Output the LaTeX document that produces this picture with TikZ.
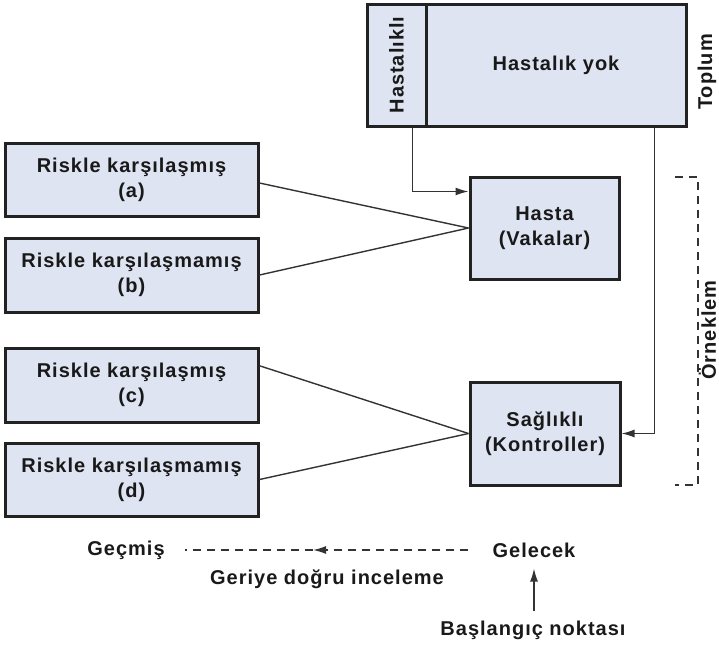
\documentclass[tikz,border=0pt]{standalone}
\usepackage{fontspec}
\setmainfont{Liberation Sans}[LetterSpace=5]
\usetikzlibrary{arrows.meta,calc}
\definecolor{boxfill}{HTML}{DEE4F2}
\definecolor{boxline}{HTML}{222222}
\definecolor{wirecol}{HTML}{333333}

\begin{document}
\begin{tikzpicture}[x=1pt, y=-1pt,
  >={Latex[length=13pt,width=8pt]},
  every node/.style={font=\bfseries\fontsize{20}{25}\selectfont, text=black!90},
  box/.style={draw=boxline, line width=3pt, fill=boxfill, align=center, inner sep=0pt},
  wire/.style={draw=wirecol, line width=1.4pt},
  dashes/.style={dash pattern=on 8pt off 6pt},
  tag/.style={inner sep=2pt}]
  \useasboundingbox (0,0) rectangle (719,646);
  % Toplum
  \node[box, minimum width=59, minimum height=122] (hastalikli) at (396.5,65) {\rotatebox{90}{Hastalıklı}};
  \node[box, minimum width=260, minimum height=122] (yok) at (556,65) {Hastalık yok};
  \node[tag, rotate=90] (toplum) at (707,72) {Toplum};
  % risk groups
  \node[box, minimum width=253, minimum height=73] (a) at (131.5,179.5) {Riskle karşılaşmış\\(a)};
  \node[box, minimum width=253, minimum height=74] (b) at (131.5,275) {Riskle karşılaşmamış\\(b)};
  \node[box, minimum width=253, minimum height=74] (c) at (131.5,385) {Riskle karşılaşmış\\(c)};
  \node[box, minimum width=253, minimum height=73] (d) at (131.5,479.5) {Riskle karşılaşmamış\\(d)};
  % cases and controls
  \node[box, minimum width=149, minimum height=102] (hasta) at (544.5,228) {Hasta\\(Vakalar)};
  \node[box, minimum width=150, minimum height=103] (saglikli) at (545,433.5) {Sağlıklı\\(Kontroller)};
  \draw[wire] ([yshift=-3.5pt]a.east) -- (hasta.west);
  \draw[wire] (b.east) -- (hasta.west);
  \draw[wire] ($(c.north east)!.25!(c.south east)$) -- (saglikli.west);
  \draw[wire] (d.east) -- (saglikli.west);
  \draw[wire,->] ([xshift=-15pt]hastalikli.south east) |- ([yshift=-16pt]hasta.north west);
  \draw[wire,->] ([xshift=-33pt]yok.south east) |- (saglikli.east);
  % Orneklem bracket
  \coordinate (brtop) at (675,177);
  \draw[wire, line width=1.2pt, dashes] (brtop) -- ++(23,0) -- ++(0,308) -- ++(-23,0);
  \node[tag, rotate=90] (orneklem) at (707.5,330) {Örneklem};
  % time axis
  \node[tag] (gecmis) at (126,550) {Geçmiş};
  \node[tag] (gelecek) at (534,550) {Gelecek};
  \coordinate (mid) at (313,550);
  \draw[wire, dashes, ->, shorten <=22pt] (gelecek.west) -- (mid);
  \draw[wire, dashes, shorten >=18pt] (mid) -- (gecmis.east);
  \node[tag] (geriye) at (327,579) {Geriye doğru inceleme};
  \node[tag] (baslangic) at (533,630) {Başlangıç noktası};
  \draw[wire,->, shorten <=7pt, shorten >=9pt] (gelecek.south |- baslangic.north) -- (gelecek.south);
\end{tikzpicture}
\end{document}
